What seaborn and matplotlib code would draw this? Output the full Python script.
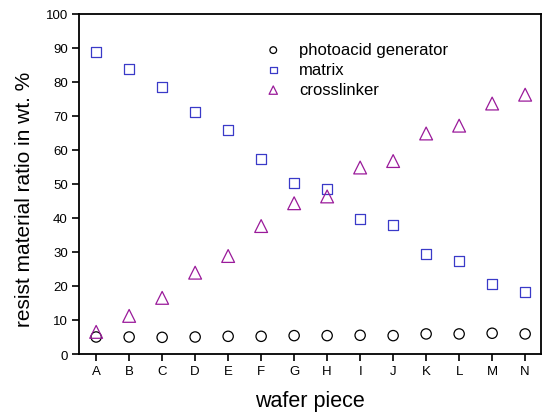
import numpy as np
import pandas as pd
import matplotlib
matplotlib.use("Agg")
import matplotlib.pyplot as plt
import seaborn as sns

# wafer pieces and measured composition (wt.%)
pieces = list("ABCDEFGHIJKLMN")
pag = [5.0, 5.0, 4.9, 5.0, 5.2, 5.2, 5.4, 5.4, 5.5, 5.4, 5.9, 5.9, 6.1, 5.9]
matrix = [88.6, 83.8, 78.6, 71.2, 65.9, 57.2, 50.2, 48.5, 39.6, 37.9, 29.5, 27.3, 20.5, 18.1]
crosslinker = [6.5, 11.2, 16.5, 23.9, 28.8, 37.6, 44.3, 46.3, 54.8, 56.7, 64.8, 67.1, 73.6, 76.2]

df = pd.DataFrame({"piece": pieces, "pag": pag, "matrix": matrix,
                   "crosslinker": crosslinker})
df["pos"] = np.arange(len(pieces))

sns.set_style("ticks")
plt.rcParams['font.family'] = ['Liberation Sans', 'DejaVu Sans']
plt.rcParams['text.color'] = 'black'
plt.rcParams['axes.labelcolor'] = 'black'

fig = plt.figure(figsize=(5.5, 4.14), dpi=100)
ax = fig.add_axes([0.1436, 0.1425, 0.84, 0.822])

blue = "#3a3ac8"
purple = "#9a1a9a"

sns.scatterplot(data=df, x="pos", y="pag", marker="o", s=55, color="black",
                facecolors="none", edgecolor="black", linewidth=0.9,
                label="photoacid generator", ax=ax)
sns.scatterplot(data=df, x="pos", y="matrix", marker="s", s=52, color=blue,
                facecolors="none", edgecolor=blue, linewidth=0.9,
                label="matrix", ax=ax)
sns.scatterplot(data=df, x="pos", y="crosslinker", marker="^", s=85, color=purple,
                facecolors="none", edgecolor=purple, linewidth=0.9,
                label="crosslinker", ax=ax)

ax.set_xlim(-0.52, 13.48)
ax.set_ylim(0, 100)
ax.set_xticks(df["pos"])
ax.set_xticklabels(pieces)
ax.set_yticks(range(0, 101, 10))
ax.tick_params(axis="both", direction="out", length=5, width=1.2,
               labelsize=9.5, colors="black", pad=3)
for sp in ax.spines.values():
    sp.set_linewidth(1.3)
    sp.set_color("black")

ax.set_xlabel("wafer piece", fontsize=15.5, labelpad=9)
ax.set_ylabel("resist material ratio in wt. %", fontsize=15)
ax.yaxis.set_label_coords(-0.097, 0.456)

ax.legend(loc="upper left", bbox_to_anchor=(0.37, 0.935), frameon=False,
          fontsize=12, markerscale=0.65, handletextpad=0.55,
          labelspacing=0.3, borderaxespad=0)

fig.savefig("out.png", dpi=100)
